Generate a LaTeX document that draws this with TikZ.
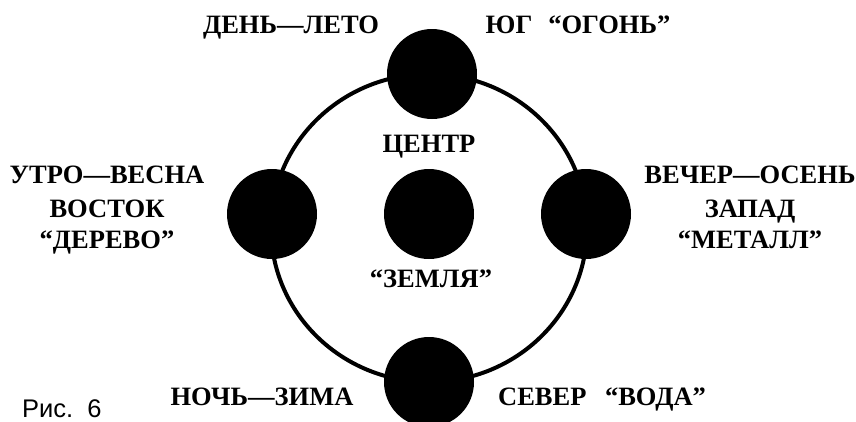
\documentclass[tikz,border=0pt]{standalone}
\usepackage{fontspec}
\setmainfont{Liberation Serif}
\newfontfamily\capfont{Liberation Sans}
\begin{document}
\begin{tikzpicture}[x=1pt,y=-1pt,
  lbl/.style={font=\bfseries\fontsize{26.5}{30}\selectfont, anchor=base, inner sep=0pt},
  disc/.style={circle, fill=black, minimum size=90pt, inner sep=0pt},
  ring/.style={line width=4pt}]
\useasboundingbox (0,0) rectangle (856,421);
\begin{scope}
\clip (0,0) rectangle (856,421);
\draw[ring] (429,228) ellipse [x radius=158, y radius=154];
\node[disc] (top) at (432,74) {};
\node[disc] (bottom) at (429,382) {};
\node[disc] (left) at (272,214) {};
\node[disc] (right) at (586,214) {};
\node[disc] (center) at (429,214) {};
\end{scope}
\node[lbl] (dl) at (291,33) {ДЕНЬ—ЛЕТО};
\node[lbl] (yug) at (578,33) {ЮГ\hspace{0.6em}“ОГОНЬ”};
\node[lbl] (c1) at (429,152) {ЦЕНТР};
\node[lbl] (c2) at (431,287) {“ЗЕМЛЯ”};
\node[lbl] (l1) at (107,183) {УТРО—ВЕСНА};
\node[lbl] (l2) at (107,217) {ВОСТОК};
\node[lbl] (l3) at (107,248) {“ДЕРЕВО”};
\node[lbl] (r1) at (750,183) {ВЕЧЕР—ОСЕНЬ};
\node[lbl] (r2) at (750,217) {ЗАПАД};
\node[lbl] (r3) at (750,248) {“МЕТАЛЛ”};
\node[lbl] (nz) at (262,405) {НОЧЬ—ЗИМА};
\node[lbl] (sv) at (602,405) {СЕВЕР\hspace{0.7em}“ВОДА”};
\node[font=\capfont\fontsize{25.5}{28}\selectfont, anchor=base west, inner sep=0pt] (ris) at (22,417) {Рис.\ \ 6};
\end{tikzpicture}
\end{document}
